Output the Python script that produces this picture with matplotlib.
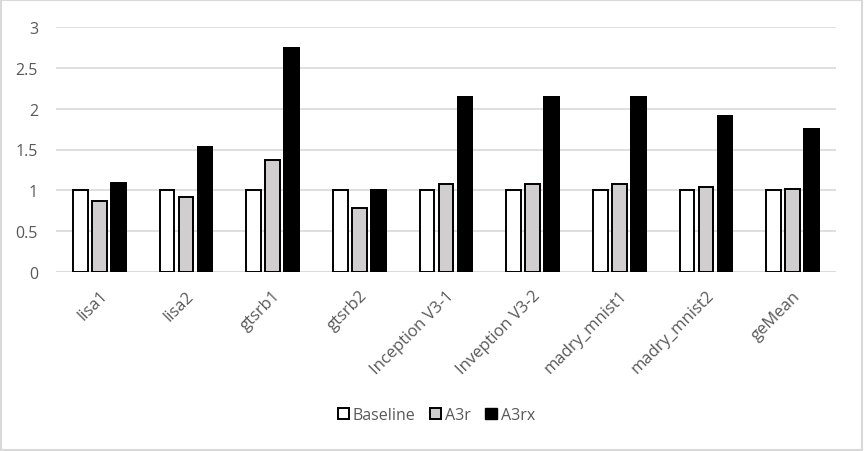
import matplotlib.pyplot as plt
import matplotlib.patches as mpatches
import numpy as np

categories = ["lisa1", "lisa2", "gtsrb1", "gtsrb2", "Inception V3-1",
              "Inveption V3-2", "madry_mnist1", "madry_mnist2", "geMean"]
baseline = [1, 1, 1, 1, 1, 1, 1, 1, 1]
a3r = [0.87, 0.92, 1.37, 0.78, 1.08, 1.08, 1.08, 1.04, 1.02]
a3rx = [1.10, 1.54, 2.75, 1.02, 2.16, 2.16, 2.16, 1.92, 1.76]
yticks = [0, 0.5, 1, 1.5, 2, 2.5, 3]

plt.rcParams["font.family"] = ["Open Sans", "DejaVu Sans"]
TXT = "#595959"
GRID = "#d9d9d9"

fig = plt.figure(figsize=(8.64, 4.52), dpi=100)
ax = fig.add_axes([56 / 864, 1 - 273 / 452, (836 - 56) / 864, (273 - 28) / 452])

x = np.arange(len(categories))
w = 0.17
step = 0.219
ax.bar(x - step, baseline, w, color="white", edgecolor="black", linewidth=1.4, zorder=3)
ax.bar(x, a3r, w, color="#d0cece", edgecolor="black", linewidth=1.4, zorder=3)
ax.bar(x + step, a3rx, w + 0.02, color="black", edgecolor="black", linewidth=0, zorder=3)

ax.set_xlim(-0.5, len(categories) - 0.5)
ax.set_ylim(0, 3)
ax.set_yticks(yticks)
ax.set_yticklabels([f"{t:g}" for t in yticks], color=TXT, fontsize=11.5)
ax.yaxis.grid(True, color=GRID, linewidth=1.2, zorder=0)
ax.set_axisbelow(True)
ax.tick_params(axis="both", length=0)
ax.tick_params(axis="y", pad=13)
for s in ax.spines.values():
    s.set_visible(False)
ax.axhline(0, color=GRID, linewidth=1.2, zorder=1)

ax.set_xticks(x)
ax.set_xticklabels(categories, rotation=45, ha="right", rotation_mode="anchor",
                   color=TXT, fontsize=12)
ax.tick_params(axis="x", pad=11)

handles = [
    mpatches.Patch(facecolor="white", edgecolor="black", linewidth=1.4, label="Baseline"),
    mpatches.Patch(facecolor="#d0cece", edgecolor="black", linewidth=1.4, label="A3r"),
    mpatches.Patch(facecolor="black", edgecolor="black", label="A3rx"),
]
leg = fig.legend(handles=handles, loc="center", bbox_to_anchor=(0.505, 1 - 416 / 452),
                 ncol=3, frameon=False, fontsize=11.5, handlelength=0.7, handleheight=0.7,
                 handletextpad=0.25, columnspacing=0.9)
for t in leg.get_texts():
    t.set_color(TXT)

fig.patches.append(mpatches.Rectangle((0.001, 0.002), 0.997, 0.995, transform=fig.transFigure,
                                      fill=False, edgecolor=GRID, linewidth=1.5))

fig.savefig("out.png", dpi=100)
